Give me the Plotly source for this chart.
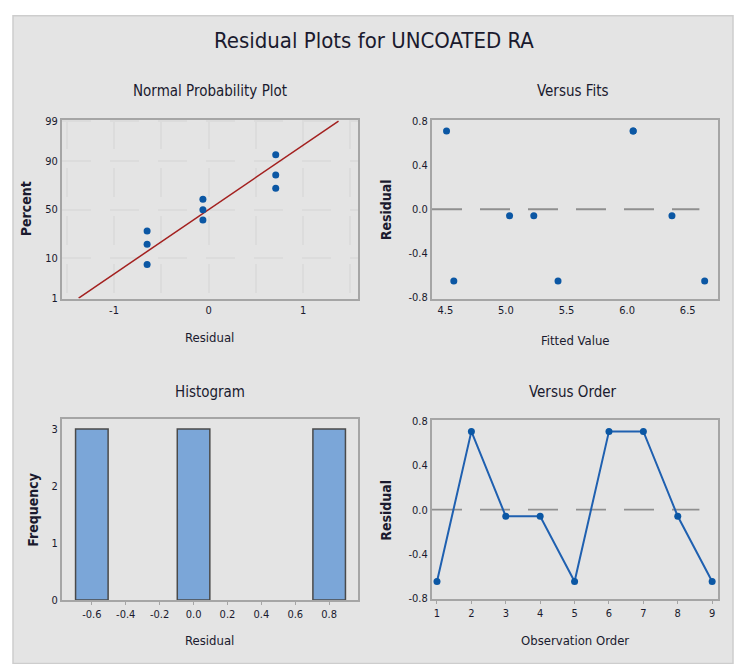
import plotly.graph_objects as go
from statistics import NormalDist, mean, stdev

# ---------------- data ----------------
observation_order = [1, 2, 3, 4, 5, 6, 7, 8, 9]
residuals = [-0.65, 0.71, -0.06, -0.06, -0.65, 0.71, 0.71, -0.06, -0.65]
fitted_values = [4.57, 4.51, 5.03, 5.23, 5.43, 6.05, 6.05, 6.37, 6.64]
percent_ticks = [1, 10, 50, 90, 99]
residual_grid = [-1.5, -1.0, -0.5, 0.0, 0.5, 1.0, 1.5]
residual_grid_labels = ["", "-1", "", "0", "", "1", ""]
fits_ticks = [4.5, 5.0, 5.5, 6.0, 6.5]
resid_ticks = [-0.8, -0.4, 0.0, 0.4, 0.8]
hist_ticks = [-0.6, -0.4, -0.2, 0.0, 0.2, 0.4, 0.6, 0.8]
freq_ticks = [0, 1, 2, 3]

W, H = 737, 664
FONT = "DejaVu Sans Condensed, Liberation Sans Narrow, Arial Narrow, sans-serif"
TXT = "#1a1a2e"

def px(x):
    return x / W

def py(y):
    return 1 - y / H

def fmt1(vals):
    return [f"{v:.1f}" for v in vals]

nd = NormalDist()
n = len(residuals)
sorted_res = sorted(residuals)
median_rank_z = [nd.inv_cdf((i + 1 - 0.3) / (n + 0.4)) for i in range(n)]
mu, sd = mean(residuals), stdev(residuals)
z_lo, z_hi = nd.inv_cdf(0.01), nd.inv_cdf(0.99)
percent_z = [nd.inv_cdf(p / 100) for p in percent_ticks]

fig = go.Figure()

# Normal probability plot
fig.add_trace(go.Scatter(x=[mu + sd * z_lo, mu + sd * z_hi], y=[z_lo, z_hi], mode="lines",
                         line=dict(color="#a3201f", width=1.5), xaxis="x", yaxis="y", showlegend=False))
fig.add_trace(go.Scatter(x=sorted_res, y=median_rank_z, mode="markers",
                         marker=dict(color="#0b57a4", size=7, symbol="circle"),
                         xaxis="x", yaxis="y", showlegend=False))
# Versus fits
fig.add_trace(go.Scatter(x=fitted_values, y=residuals, mode="markers",
                         marker=dict(color="#0b57a4", size=7, symbol="circle"),
                         xaxis="x2", yaxis="y2", showlegend=False))
# Histogram
fig.add_trace(go.Histogram(x=residuals, xbins=dict(start=-0.7, end=0.9, size=0.2),
                           marker=dict(color="#7ba6d8", line=dict(color="#4a4a4a", width=1.5)),
                           xaxis="x3", yaxis="y3", showlegend=False))
# Versus order
fig.add_trace(go.Scatter(x=observation_order, y=residuals, mode="lines+markers",
                         line=dict(color="#1f60b0", width=2),
                         marker=dict(color="#0b57a4", size=7, symbol="circle"),
                         xaxis="x4", yaxis="y4", showlegend=False))

axis_common = dict(showline=True, mirror=True, linecolor="#a5a5a5", linewidth=2,
                   zeroline=False, tickfont=dict(family=FONT, size=11, color=TXT),
                   fixedrange=True)

dom1x = [px(62), px(358)]
dom2x = [px(432), px(718)]
domTop = [py(299), py(117)]
domBot = [py(606), py(422)]

fig.update_layout(
    width=W, height=H,
    margin=dict(l=0, r=0, t=0, b=0),
    paper_bgcolor="white", plot_bgcolor="white",
    bargap=0.04,
    xaxis=dict(domain=dom1x, anchor="y", range=[-1.55, 1.58], tickmode="array",
               tickvals=residual_grid, ticktext=residual_grid_labels, showgrid=True,
               gridcolor="#dcdcdc", gridwidth=2, griddash="29px,19px", ticks="", **axis_common),
    yaxis=dict(domain=domTop, anchor="x", range=[-2.34, 2.36], tickmode="array",
               tickvals=percent_z, ticktext=[str(p) for p in percent_ticks], showgrid=True,
               gridcolor="#dcdcdc", gridwidth=2, griddash="29px,19px", ticks="", **axis_common),
    xaxis2=dict(domain=dom2x, anchor="y2", range=[4.39, 6.75], tickmode="array",
                tickvals=fits_ticks, ticktext=fmt1(fits_ticks), showgrid=False, ticks="", **axis_common),
    yaxis2=dict(domain=domTop, anchor="x2", range=[-0.81, 0.81], tickmode="array",
                tickvals=resid_ticks, ticktext=fmt1(resid_ticks), showgrid=False, ticks="", **axis_common),
    xaxis3=dict(domain=dom1x, anchor="y3", range=[-0.776, 0.97], tickmode="array",
                tickvals=hist_ticks, ticktext=fmt1(hist_ticks), showgrid=False, ticks="outside",
                ticklen=3, tickcolor="#a5a5a5", **axis_common),
    yaxis3=dict(domain=domBot, anchor="x3", range=[0, 3.17], tickmode="array",
                tickvals=freq_ticks, showgrid=False, ticks="", **axis_common),
    xaxis4=dict(domain=dom2x, anchor="y4", range=[0.855, 9.17], tickmode="array",
                tickvals=observation_order, showgrid=False, ticks="outside",
                ticklen=3, tickcolor="#a5a5a5", **axis_common),
    yaxis4=dict(domain=[py(605), py(423)], anchor="x4", range=[-0.81, 0.81], tickmode="array",
                tickvals=resid_ticks, ticktext=fmt1(resid_ticks), showgrid=False, ticks="", **axis_common),
)

shapes = [
    dict(type="rect", xref="paper", yref="paper", x0=px(13), x1=px(733), y0=-0.01, y1=py(11),
         fillcolor="#e4e4e4", line=dict(color="#cdcdcd", width=1.5), layer="below"),
    dict(type="line", xref="x2 domain", yref="y2", x0=0.0, x1=0.935, y0=0, y1=0,
         line=dict(color="#8f8f8f", width=1.8, dash="30px,18px"), layer="below"),
    dict(type="line", xref="x4 domain", yref="y4", x0=0.0, x1=0.935, y0=0, y1=0,
         line=dict(color="#8f8f8f", width=1.8, dash="30px,18px"), layer="below"),
]
fig.update_layout(shapes=shapes)

def ann(text, x, y, size, angle=0):
    return dict(text=text, x=px(x), y=py(y), xref="paper", yref="paper", showarrow=False,
                xanchor="center", yanchor="middle", textangle=angle,
                font=dict(family=FONT, size=size, color=TXT))

annotations = [
    ann("Residual Plots for UNCOATED RA", 374, 36, 22),
    ann("Normal Probability Plot", 210, 88, 15),
    ann("Versus Fits", 573, 88, 15),
    ann("Histogram", 210, 394, 15),
    ann("Versus Order", 573, 394, 15),
    ann("<b>Percent</b>", 26, 208, 14, -90),
    ann("Residual", 210, 339, 13),
    ann("<b>Residual</b>", 386, 208, 14, -90),
    ann("Fitted Value", 575, 342, 13),
    ann("<b>Frequency</b>", 33, 514, 14, -90),
    ann("Residual", 210, 647, 13),
    ann("<b>Residual</b>", 386, 514, 14, -90),
    ann("Observation Order", 575, 647, 13),
]
fig.update_layout(annotations=annotations)

fig.write_html("out.html")
